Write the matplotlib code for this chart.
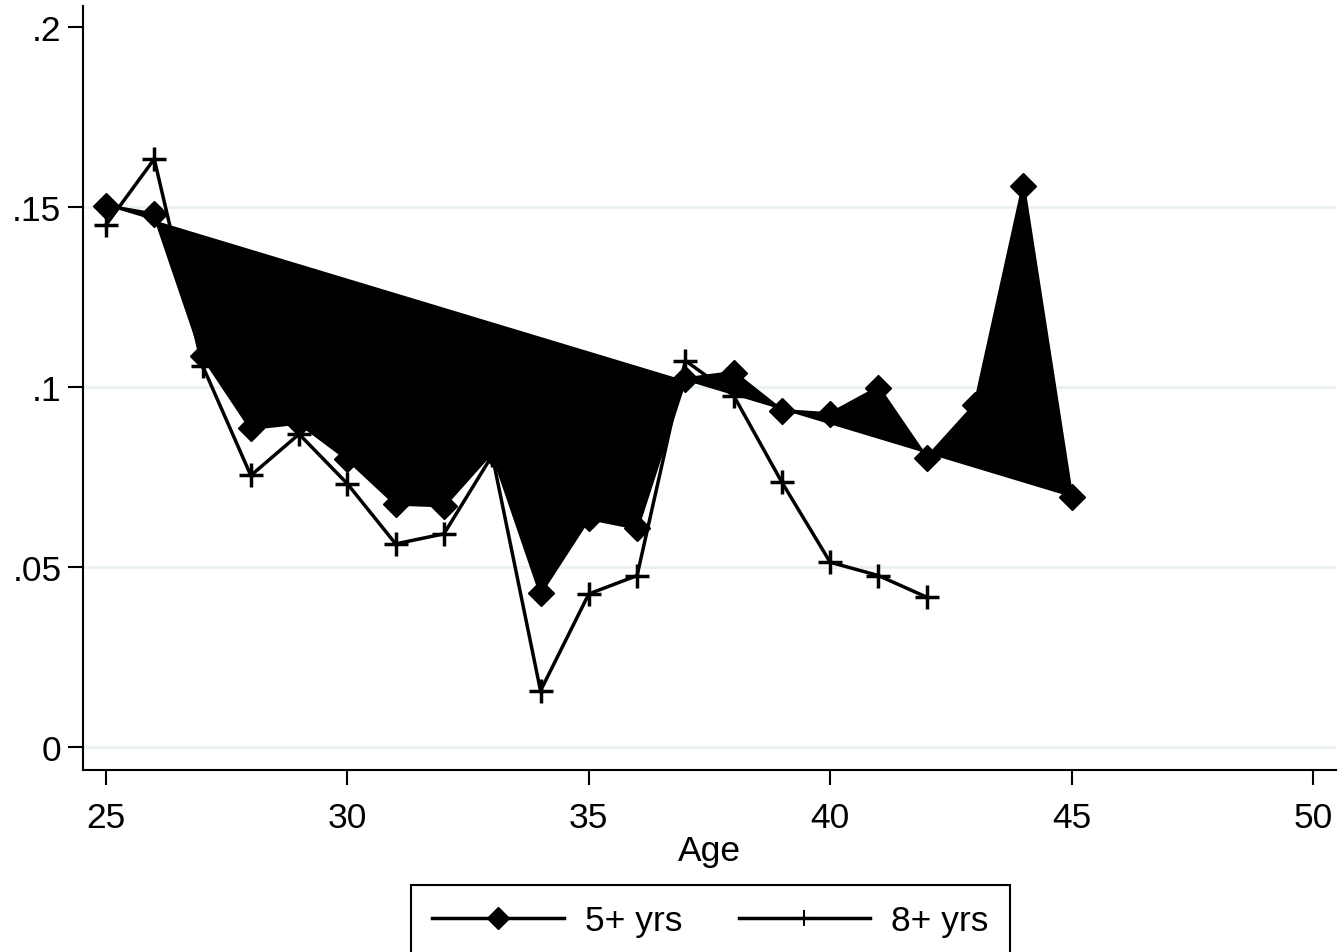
import matplotlib
matplotlib.use("Agg")
import matplotlib.pyplot as plt
from matplotlib.lines import Line2D
from matplotlib.patches import Rectangle

plt.rcParams['font.family'] = ['Liberation Sans', 'DejaVu Sans']

age5 = [25, 26, 27, 28, 29, 30, 31, 32, 33, 34, 35, 36, 37, 38, 39, 40, 41, 42, 43, 44, 45]
yrs5 = [.1503, .148, .1086, .0885, .0900, .0800, .0675, .0670, .0820, .0428, .0635, .0608,
        .1022, .1040, .0934, .0925, .0998, .0802, .0950, .1558, .0694]

age8 = [25, 26, 27, 28, 29, 30, 31, 32, 33, 34, 35, 36, 37, 38, 39, 40, 41, 42]
yrs8 = [.1450, .1633, .1059, .0754, .0869, .0731, .0564, .0592, .0810, .0156, .0425, .0476,
        .1073, .0976, .0735, .0513, .0476, .0416]

xticks = [25, 30, 35, 40, 45, 50]
yticks = [0, .05, .1, .15, .2]
yticklabels = ['0', '.05', '.1', '.15', '.2']

W, H = 1341, 953
FS = 25.5
fig = plt.figure(figsize=(W / 100, H / 100), dpi=100)
ax = fig.add_axes([83 / W, 1 - 771 / H, (1336 - 83) / W, (771 - 7) / H])

ax.set_xlim(24.524, 50.476)
ax.set_ylim(-0.0064, 0.2058)

for yv in yticks[:-1]:
    ax.axhline(yv, color='#eaf2f3', lw=2.2, zorder=0)

ax.fill(age5, yrs5, color='black', lw=0, zorder=2)
ax.plot(age5, yrs5, color='black', lw=2.5, marker='D', ms=13, mfc='black', mec='black', zorder=3)
ax.plot(age8, yrs8, color='black', lw=2.5, marker='+', ms=17, mew=2.5, zorder=3)

ax.set_xticks(xticks)
ax.set_xticklabels([str(x) for x in xticks])
ax.set_yticks(yticks)
ax.set_yticklabels(yticklabels)
ax.tick_params(axis='both', labelsize=FS, length=10.5, width=1.5, color='black', direction='out')
ax.tick_params(axis='x', pad=11.5)
ax.tick_params(axis='y', pad=5)

for s in ['top', 'right']:
    ax.spines[s].set_visible(False)
for s in ['left', 'bottom']:
    ax.spines[s].set_linewidth(1.5)

ax.set_xlabel('Age', fontsize=FS, labelpad=0)

# legend frame (extends past the bottom edge, as in the reference)
fig.patches.append(Rectangle((411 / W, 1 - 965 / H), (1010 - 411) / W, (965 - 886) / H,
                             transform=fig.transFigure, fill=False, edgecolor='black',
                             lw=1.5, clip_on=False))

h1 = Line2D([], [], color='black', lw=2.5, marker='D', ms=11)
h2 = Line2D([], [], color='black', lw=2.5, marker='+', ms=12, mew=1.5)
leg = fig.legend([h1, h2], ['5+ yrs', '8+ yrs'], loc='center',
                 bbox_to_anchor=(710.5 / W, 1 - 922 / H), ncol=2, fontsize=FS,
                 frameon=False, handlelength=3.7,
                 handletextpad=0.6, columnspacing=1.6, borderpad=0.0, borderaxespad=0)

fig.savefig('out.png', dpi=100)
